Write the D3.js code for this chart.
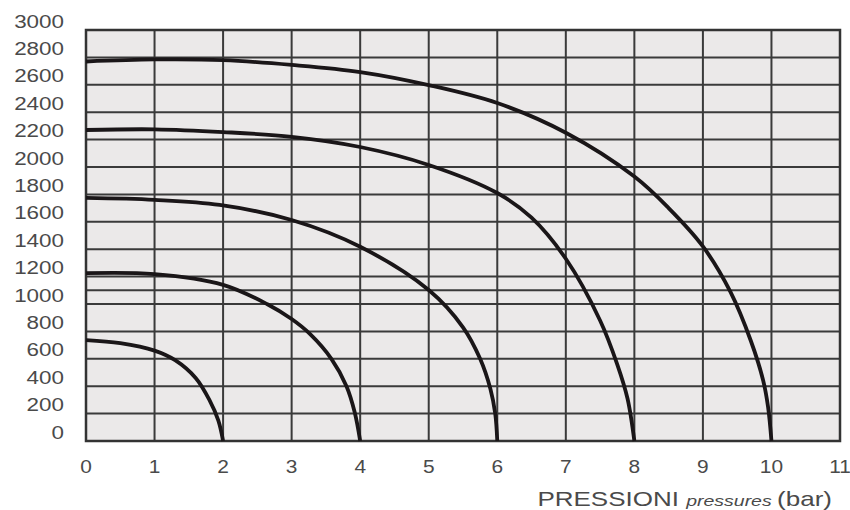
<!DOCTYPE html>
<html>
<head>
<meta charset="utf-8">
<script src="https://cdn.jsdelivr.net/npm/d3@7"></script>
<style>
  html, body { margin: 0; padding: 0; background: #fff; }
  svg { display: block; font-family: "Liberation Sans", Arial, sans-serif; }
</style>
</head>
<body>
<svg id="chart" width="850" height="510"></svg>
<script>
// Flow vs pressure curves, one per max pressure (2, 4, 6, 8, 10 bar)
const xTicks = [0, 1, 2, 3, 4, 5, 6, 7, 8, 9, 10, 11];
const yTicks = [0, 200, 400, 600, 800, 1000, 1200, 1400, 1600, 1800, 2000, 2200, 2400, 2600, 2800, 3000];
const yExtraLines = [1100];

const curve2 = [[0, 737], [0.5, 715], [1, 660], [1.3, 590], [1.6, 460], [1.8, 300], [1.93, 150], [2, 0]];
const curve4 = [[0, 1225], [1, 1218], [2, 1140], [2.64, 1000], [3, 890], [3.27, 780], [3.58, 600], [3.8, 400], [3.92, 210], [4, 0]];
const curve6 = [[0, 1774], [1, 1760], [1.95, 1723], [3, 1613], [4, 1418], [5, 1102], [5.5, 830], [5.75, 600], [5.9, 380], [5.97, 200], [6, 0]];
const curve8 = [[0, 2270], [1, 2275], [2, 2255], [3, 2220], [4, 2146], [5, 2015], [6, 1810], [6.5, 1630], [7, 1330], [7.5, 880], [7.75, 560], [7.9, 310], [8, 0]];
const curve10 = [[0, 2770], [1, 2785], [2, 2780], [3, 2745], [4, 2693], [5, 2598], [6, 2467], [7, 2250], [8, 1930], [8.5, 1700], [9, 1420], [9.4, 1090], [9.7, 730], [9.88, 440], [9.95, 250], [10, 0]];

(function () {
  const svg = d3.select("#chart");
  const left = 86, right = 840, top = 30, bottom = 441;

  const x = d3.scaleLinear().domain([0, 11]).range([left, right]);
  const y = d3.scaleLinear().domain([0, 3000]).range([bottom, top]);

  // plot background
  svg.append("rect")
    .attr("x", left).attr("y", top)
    .attr("width", right - left).attr("height", bottom - top)
    .attr("fill", "#ebe9e9");

  const grid = svg.append("g").attr("stroke", "#3a3a3a").attr("stroke-width", 2);

  grid.selectAll("line.h")
    .data(yTicks.concat(yExtraLines))
    .join("line")
    .attr("class", "h")
    .attr("x1", left).attr("x2", right)
    .attr("y1", (d) => y(d)).attr("y2", (d) => y(d));

  grid.selectAll("line.v")
    .data(xTicks)
    .join("line")
    .attr("class", "v")
    .attr("x1", (d) => x(d)).attr("x2", (d) => x(d))
    .attr("y1", top).attr("y2", bottom);

  // frame
  svg.append("rect")
    .attr("x", left).attr("y", top)
    .attr("width", right - left).attr("height", bottom - top)
    .attr("fill", "none")
    .attr("stroke", "#333")
    .attr("stroke-width", 2.5);

  // curves
  const line = d3.line()
    .x((d) => x(d[0]))
    .y((d) => y(d[1]))
    .curve(d3.curveCatmullRom.alpha(0.5));

  svg.append("g")
    .selectAll("path")
    .data([curve2, curve4, curve6, curve8, curve10])
    .join("path")
    .attr("d", line)
    .attr("fill", "none")
    .attr("stroke", "#1a1618")
    .attr("stroke-width", 3.8);

  // y labels (sit a little above their grid lines, as in the print)
  svg.append("g")
    .selectAll("text")
    .data(yTicks)
    .join("text")
    .attr("transform", (d) => `translate(64,${y(d) - 9}) scale(1.18,1)`)
    .attr("dy", "0.35em")
    .attr("text-anchor", "end")
    .attr("font-size", 19)
    .attr("fill", "#4a4a4a")
    .text((d) => d);

  // x labels
  svg.append("g")
    .selectAll("text")
    .data(xTicks)
    .join("text")
    .attr("transform", (d) => `translate(${x(d)},473) scale(1.1,1)`)
    .attr("text-anchor", "middle")
    .attr("font-size", 19)
    .attr("fill", "#4a4a4a")
    .text((d) => d);

  // axis title
  const title = svg.append("text")
    .attr("transform", "translate(832,506) scale(1.3,1)")
    .attr("text-anchor", "end")
    .attr("fill", "#4a4a4a")
    .attr("font-size", 20);
  title.append("tspan").text("PRESSIONI ");
  title.append("tspan").attr("font-style", "italic").attr("font-size", 15).text("pressures ");
  title.append("tspan").text("(bar)");
})();
</script>
</body>
</html>
